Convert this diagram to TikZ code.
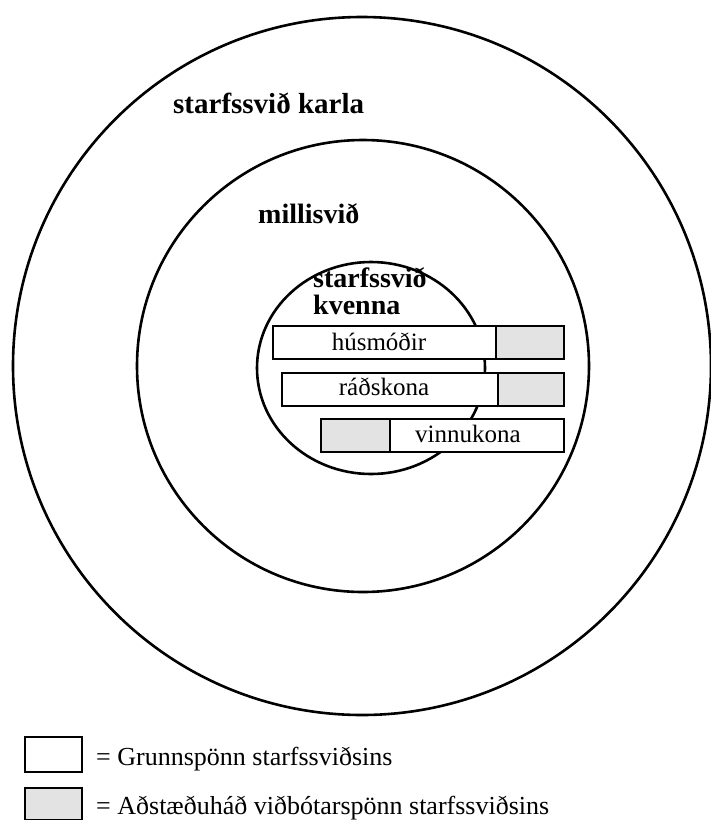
\documentclass[tikz,border=0pt]{standalone}
\usepackage{fontspec}
\setmainfont{Liberation Serif}
\definecolor{fillgrey}{RGB}{227,227,227}
\begin{document}
\begin{tikzpicture}[x=1pt,y=-1pt,
  ring/.style={line width=2.6pt},
  bar/.style={draw, line width=2.4pt, rectangle, inner sep=0pt, anchor=north west, minimum height=33pt},
  big/.style={font=\fontsize{28}{25}\selectfont\bfseries, inner sep=0pt, anchor=base west},
  lbl/.style={font=\fontsize{25}{28}\selectfont, inner sep=0pt, anchor=base},
  leg/.style={font=\fontsize{26}{28}\selectfont, inner sep=0pt, anchor=base west}]
\useasboundingbox (0,0) rectangle (711,820);
% circles
\draw[ring] (362,366) circle [radius=349pt];
\draw[ring] (363,366) circle [radius=226pt];
\draw[ring] (371,368) ellipse [x radius=114pt, y radius=106pt];
% labels
\node[big, font=\fontsize{29}{25}\selectfont\bfseries] (karla) at (173,113) {starfssvið karla};
\node[big] (milli) at (258,223) {millisvið};
\node[big] (kvenna1) at (313,287) {starfssvið};
\node[big] (kvenna2) at (313,314) {kvenna};
% bars
\node[bar, fill=white, minimum width=223pt] (husW) at (272,325) {};
\node[bar, fill=fillgrey, minimum width=68pt] (husG) at (495,325) {};
\node[lbl] (husT) at (379,350) {húsmóðir};
\node[bar, fill=white, minimum width=216pt] (radW) at (281,372) {};
\node[bar, fill=fillgrey, minimum width=66pt] (radG) at (497,372) {};
\node[lbl] (radT) at (384,395) {ráðskona};
\node[bar, fill=fillgrey, minimum width=69pt] (vinG) at (320,418) {};
\node[bar, fill=white, minimum width=174pt] (vinW) at (389,418) {};
\node[lbl] (vinT) at (468,442) {vinnukona};
% legend
\node[bar, fill=white, minimum width=57pt, minimum height=35pt] (leg1) at (24,736) {};
\node[leg] (leg1T) at (96,765) {= Grunnspönn starfssviðsins};
\node[bar, fill=fillgrey, minimum width=57pt, minimum height=32pt] (leg2) at (24,787) {};
\node[leg] (leg2T) at (96,814) {= Aðstæðuháð viðbótarspönn starfssviðsins};
\end{tikzpicture}
\end{document}
